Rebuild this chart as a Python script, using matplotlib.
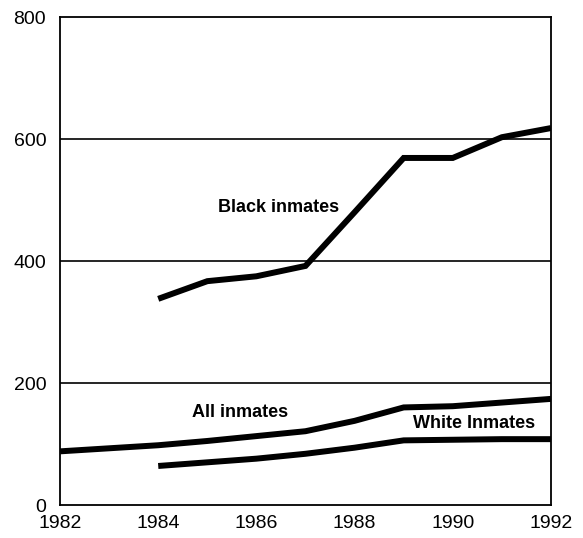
import matplotlib
matplotlib.use('Agg')
import matplotlib.pyplot as plt

plt.rcParams['font.family'] = ['Liberation Sans', 'DejaVu Sans']

# data
years_all = [1982, 1983, 1984, 1985, 1986, 1987, 1988, 1989, 1990, 1991, 1992]
all_inmates = [88, 93, 98, 105, 113, 121, 138, 160, 162, 168, 174]

years_bw = [1984, 1985, 1986, 1987, 1988, 1989, 1990, 1991, 1992]
black_inmates = [338, 367, 375, 392, 480, 569, 569, 603, 618]
white_inmates = [64, 70, 76, 84, 94, 106, 107, 108, 108]

x_ticks = [1982, 1984, 1986, 1988, 1990, 1992]
y_ticks = [0, 200, 400, 600, 800]

fig = plt.figure(figsize=(5.83, 5.38), dpi=100)
ax = fig.add_axes([0.103, 0.0613, 0.842, 0.907])

lw = 4.3
ax.plot(years_bw, black_inmates, color='black', lw=lw, solid_joinstyle='miter', solid_capstyle='butt')
ax.plot(years_all, all_inmates, color='black', lw=lw, solid_joinstyle='miter', solid_capstyle='butt')
ax.plot(years_bw, white_inmates, color='black', lw=lw, solid_joinstyle='miter', solid_capstyle='butt')

# grid lines
for y in [200, 400, 600]:
    ax.axhline(y, color='black', lw=1.2, zorder=0)

ax.text(1985.22, 487, 'Black inmates', fontsize=13, fontweight='bold', va='center', ha='left')
ax.text(1984.69, 151, 'All inmates', fontsize=13, fontweight='bold', va='center', ha='left')
ax.text(1989.2, 133, 'White Inmates', fontsize=13, fontweight='bold', va='center', ha='left')

ax.set_xlim(1982, 1992)
ax.set_ylim(0, 800)
ax.set_xticks(x_ticks)
ax.set_yticks(y_ticks)
ax.tick_params(length=0, labelsize=14, pad=10)
ax.tick_params(axis='x', pad=7)
for s in ax.spines.values():
    s.set_linewidth(1.3)

fig.savefig('out.png', dpi=100, facecolor='white')
